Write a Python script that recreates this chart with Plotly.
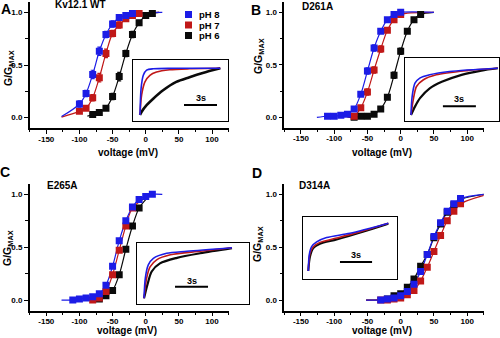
import plotly.graph_objects as go

W, H = 500, 338
BLUE = "#1c1ce6"
RED = "#c01818"
BLACK = "#0a0a0a"
FONT = "Liberation Sans"

# ---------------- data ----------------
X_TICKS = [-150, -100, -50, 0, 50, 100]
X_TICK_TEXT = ["-150", "-100", "-50", "0", "50", "100"]
Y_TICKS = [0.0, 0.5, 1.0]
Y_TICK_TEXT = ["0.0", "0.5", "1.0"]
PANEL_LETTERS = ["A", "B", "C", "D"]
PANEL_TITLES = ["Kv12.1 WT", "D261A", "E265A", "D314A"]
LEGEND_LABELS = ["pH 8", "pH 7", "pH 6"]

# Panel A  Kv12.1 WT
A_v8 = [-100, -90, -80, -70, -60, -50, -40, -30, -20]
A_g8 = [0.13, 0.23, 0.41, 0.63, 0.79, 0.89, 0.95, 0.97, 0.99]
A_e8 = [0.03, 0.03, 0.04, 0.04, 0.03, 0.03, 0.02, 0.02, 0.01]
A_v7 = [-100, -90, -80, -70, -60, -50, -40, -30, -20, -10]
A_g7 = [0.06, 0.09, 0.19, 0.38, 0.61, 0.80, 0.88, 0.94, 0.97, 0.99]
A_e7 = [0.02, 0.02, 0.03, 0.04, 0.04, 0.03, 0.03, 0.02, 0.02, 0.01]
A_v6 = [-80, -70, -60, -50, -40, -30, -20, -10, 0, 10]
A_g6 = [0.03, 0.05, 0.09, 0.20, 0.39, 0.61, 0.79, 0.90, 0.97, 0.99]
A_e6 = [0.01, 0.02, 0.02, 0.03, 0.04, 0.03, 0.03, 0.02, 0.02, 0.01]
A_fit8 = [(-127, 0.01), (25, 1.0)]
A_fit7 = [(-127, 0.005), (20, 1.0)]
A_fit6 = [(-88, 0.015), (20, 1.0)]

# Panel B  D261A
B_v8 = [-110, -100, -90, -80, -70, -60, -50, -40, -30, -20, -10, 0]
B_g8 = [0.01, 0.01, 0.02, 0.03, 0.08, 0.22, 0.44, 0.66, 0.82, 0.93, 0.98, 1.0]
B_e8 = [0.01, 0.01, 0.01, 0.01, 0.01, 0.02, 0.03, 0.03, 0.02, 0.02, 0.01, 0.01]
B_v7 = [-70, -60, -50, -40, -30, -20, -10, 0]
B_g7 = [0.01, 0.09, 0.24, 0.45, 0.65, 0.83, 0.93, 0.98]
B_e7 = [0.01, 0.02, 0.03, 0.03, 0.03, 0.02, 0.02, 0.01]
B_v6 = [-70, -60, -50, -40, -30, -20, -10, 0, 10, 20, 30]
B_g6 = [0.0, 0.01, 0.01, 0.03, 0.08, 0.19, 0.40, 0.63, 0.82, 0.93, 0.98]
B_e6 = [0.01, 0.01, 0.01, 0.01, 0.02, 0.02, 0.03, 0.03, 0.02, 0.02, 0.01]
B_fit8 = [(-126, 0.0), (50, 1.0)]
B_fit7 = [(-80, 0.0), (50, 1.0)]
B_fit6 = [(-78, 0.0), (50, 1.0)]

# Panel C  E265A
C_v8 = [-110, -100, -90, -80, -70, -60, -50, -40, -30, -20, -10, 0, 10]
C_g8 = [0.0, 0.01, 0.02, 0.03, 0.06, 0.14, 0.32, 0.56, 0.75, 0.88, 0.95, 0.98, 1.0]
C_e8 = [0.01, 0.01, 0.01, 0.01, 0.01, 0.02, 0.02, 0.02, 0.02, 0.02, 0.01, 0.01, 0.01]
C_v7 = [-80, -70, -60, -50, -40, -30, -20]
C_g7 = [0.0, 0.02, 0.08, 0.24, 0.47, 0.70, 0.87]
C_e7 = [0.01, 0.01, 0.01, 0.02, 0.02, 0.02, 0.02]
C_v6 = [-70, -60, -50, -40, -30, -20, -10]
C_g6 = [0.01, 0.04, 0.09, 0.24, 0.48, 0.70, 0.87]
C_e6 = [0.01, 0.01, 0.01, 0.02, 0.02, 0.02, 0.02]
C_fit8 = [(-127, 0.0), (25, 1.0)]
C_fit7 = [(-92, 0.0), (0, 0.97)]
C_fit6 = [(-80, 0.005), (0, 0.95)]

# Panel D  D314A
D_v8 = [-30, -20, -10, 0, 10, 20, 30, 40, 50, 60, 70, 80, 90]
D_g8 = [0.0, 0.01, 0.02, 0.04, 0.08, 0.15, 0.27, 0.43, 0.60, 0.73, 0.84, 0.91, 0.96]
D_e8 = [0.01, 0.01, 0.01, 0.01, 0.01, 0.02, 0.02, 0.02, 0.02, 0.02, 0.02, 0.01, 0.01]
D_v7 = [-30, -20, -10, 0, 10, 20, 30, 40, 50, 60, 70, 80, 90]
D_g7 = [0.0, 0.0, 0.01, 0.02, 0.05, 0.09, 0.18, 0.31, 0.46, 0.61, 0.75, 0.84, 0.91]
D_e7 = [0.01, 0.01, 0.01, 0.01, 0.01, 0.01, 0.02, 0.02, 0.02, 0.02, 0.02, 0.01, 0.01]
D_v6 = [-20, -10, 0, 10, 20, 30, 40, 50, 60, 70, 80, 90]
D_g6 = [0.01, 0.04, 0.06, 0.12, 0.20, 0.32, 0.43, 0.59, 0.72, 0.83, 0.90, 0.95]
D_e6 = [0.01, 0.01, 0.01, 0.02, 0.02, 0.02, 0.02, 0.02, 0.02, 0.02, 0.01, 0.01]
D_fit8 = [(-52, 0.0), (125, 1.0)]
D_fit7 = [(-52, 0.0), (125, 0.99)]
D_fit6 = [(-52, 0.0), (125, 1.0)]

# Inset current traces (time in s, normalised current)
IA_t8 = [0, 0.1, 0.3, 0.6, 1.2, 3.0, 7.3]
IA_i8 = [0, 0.57, 0.85, 0.96, 0.99, 1.0, 1.0]
IA_t7 = [0, 0.15, 0.45, 0.9, 1.5, 2.7, 4.5, 7.3]
IA_i7 = [0, 0.43, 0.71, 0.85, 0.92, 0.97, 0.99, 1.0]
IA_t6 = [0, 0.15, 0.6, 1.2, 2.1, 3.3, 4.5, 5.7, 7.3]
IA_i6 = [0, 0.07, 0.21, 0.35, 0.53, 0.71, 0.81, 0.90, 1.0]

IB_t8 = [0, 0.1, 0.36, 0.8, 1.7, 3.5, 7.9]
IB_i8 = [0, 0.39, 0.68, 0.79, 0.86, 0.93, 1.0]
IB_t7 = [0, 0.2, 0.5, 1.1, 2.3, 5.1, 7.9]
IB_i7 = [0, 0.32, 0.61, 0.75, 0.86, 0.95, 1.0]
IB_t6 = [0, 0.36, 0.82, 1.7, 2.8, 4.6, 6.4, 7.9]
IB_i6 = [0, 0.18, 0.36, 0.57, 0.71, 0.86, 0.95, 1.0]

IC_t8 = [0, 0.12, 0.39, 0.85, 2.06, 3.9, 8.0]
IC_i8 = [0, 0.40, 0.66, 0.79, 0.89, 0.93, 1.0]
IC_t7 = [0, 0.24, 0.55, 1.15, 2.4, 5.1, 8.0]
IC_i7 = [0, 0.40, 0.62, 0.76, 0.86, 0.93, 1.0]
IC_t6 = [0, 0.3, 0.7, 1.45, 3.0, 5.1, 8.0]
IC_i6 = [0, 0.26, 0.53, 0.69, 0.80, 0.89, 0.99]

ID_t8 = [0, 0.09, 0.31, 0.78, 1.71, 3.89, 7.48]
ID_i8 = [0, 0.34, 0.51, 0.61, 0.70, 0.79, 1.0]
ID_t7 = [0, 0.16, 0.47, 1.09, 2.65, 4.8, 7.48]
ID_i7 = [0, 0.37, 0.51, 0.60, 0.69, 0.82, 1.0]
ID_t6 = [0, 0.16, 0.47, 1.09, 2.65, 5.1, 7.48]
ID_i6 = [0, 0.30, 0.48, 0.57, 0.66, 0.82, 0.99]

SCALE_SECONDS = 3
SCALE_LABEL = "3s"

# ---------------- layout geometry (pixels) ----------------
def px2x(p):
    return p / W

def px2y(p):
    return 1 - p / H

MAIN_DOMAINS = [  # (x0,x1,y_top,y_bottom) px
    (29.7, 228.6, 1.8, 128.2),
    (284.3, 483.8, 1.8, 127.8),
    (29.7, 228.6, 183.7, 310.6),
    (284.3, 483.8, 183.7, 310.6),
]
INSET_BOXES = [  # px box, t-range, i-range, scale bar start t, bar y, text y
    ((133, 228, 60, 121), (-0.636, 8.0), (-0.128, 1.178), 4.0, 0.214, 0.37),
    ((405, 499, 58, 121), (-0.545, 8.0), (-0.128, 1.22), 2.9, 0.19, 0.34),
    ((137, 249, 243, 304), (-0.636, 9.545), (-0.113, 1.093), 2.82, 0.229, 0.35),
    ((303, 397, 217, 279), (-0.495, 8.29), (-0.168, 1.132), 2.96, 0.189, 0.345),
]

panels = [
    [(A_v6, A_g6, A_e6, A_fit6, BLACK), (A_v7, A_g7, A_e7, A_fit7, RED), (A_v8, A_g8, A_e8, A_fit8, BLUE)],
    [(B_v6, B_g6, B_e6, B_fit6, BLACK), (B_v7, B_g7, B_e7, B_fit7, RED), (B_v8, B_g8, B_e8, B_fit8, BLUE)],
    [(C_v6, C_g6, C_e6, C_fit6, BLACK), (C_v7, C_g7, C_e7, C_fit7, RED), (C_v8, C_g8, C_e8, C_fit8, BLUE)],
    [(D_v6, D_g6, D_e6, D_fit6, BLACK), (D_v7, D_g7, D_e7, D_fit7, RED), (D_v8, D_g8, D_e8, D_fit8, BLUE)],
]
insets = [
    [(IA_t6, IA_i6, BLACK, 2.6), (IA_t7, IA_i7, RED, 1.6), (IA_t8, IA_i8, BLUE, 1.6)],
    [(IB_t6, IB_i6, BLACK, 2.2), (IB_t7, IB_i7, RED, 1.6), (IB_t8, IB_i8, BLUE, 1.6)],
    [(IC_t6, IC_i6, BLACK, 2.2), (IC_t7, IC_i7, RED, 1.6), (IC_t8, IC_i8, BLUE, 1.6)],
    [(ID_t6, ID_i6, BLACK, 2.0), (ID_t7, ID_i7, RED, 1.6), (ID_t8, ID_i8, BLUE, 1.6)],
]

fig = go.Figure()
layout = dict(
    width=W, height=H, margin=dict(l=0, r=0, t=0, b=0),
    paper_bgcolor="white", plot_bgcolor="white", showlegend=False,
    font=dict(family=FONT, color="black"),
)

tickfont = dict(family=FONT, size=8, color="black", weight="bold")

for k, (x0, x1, yt, yb) in enumerate(MAIN_DOMAINS):
    n = k + 1
    xa = "x" if n == 1 else f"x{n}"
    ya = "y" if n == 1 else f"y{n}"
    layout[f"xaxis{n}"] = dict(
        domain=[px2x(x0), px2x(x1)], range=[-175, 125], anchor=ya,
        showline=True, linecolor="black", linewidth=1.5,
        ticks="outside", ticklen=4, tickwidth=1.3, tickcolor="black",
        tickvals=X_TICKS, ticktext=X_TICK_TEXT, tickfont=tickfont,
        ticklabelstandoff=-2,
        minor=dict(ticks="outside", ticklen=2.5, tickwidth=1, tickcolor="black", dtick=25, tick0=0),
        showgrid=False, zeroline=False, fixedrange=True,
    )
    layout[f"yaxis{n}"] = dict(
        domain=[px2y(yb), px2y(yt)], range=[-0.1, 1.1], anchor=xa,
        showline=True, linecolor="black", linewidth=1.5,
        ticks="outside", ticklen=4, tickwidth=1.3, tickcolor="black",
        tickvals=Y_TICKS, ticktext=Y_TICK_TEXT, tickfont=tickfont,
        minor=dict(ticks="outside", ticklen=2.5, tickwidth=1, tickcolor="black", dtick=0.25, tick0=0),
        showgrid=False, zeroline=False, fixedrange=True,
    )
    for (v, g, e, fit, col) in panels[k]:
        cx = [fit[0][0]] + v + [fit[1][0]]
        cy = [fit[0][1]] + g + [fit[1][1]]
        fig.add_trace(go.Scatter(x=cx, y=cy, mode="lines", xaxis=xa, yaxis=ya,
                                 line=dict(color=col, width=1.2, shape="spline", smoothing=0.9),
                                 hoverinfo="skip"))
    for (v, g, e, fit, col) in panels[k]:
        fig.add_trace(go.Scatter(x=v, y=g, mode="markers", xaxis=xa, yaxis=ya,
                                 marker=dict(symbol="square", size=7, color=col, line=dict(width=0)),
                                 error_y=dict(type="data", array=e, color=col, thickness=1.2, width=2)))

for k, (box, tr, ir, sb0, sby, txty) in enumerate(INSET_BOXES):
    n = k + 5
    xa, ya = f"x{n}", f"y{n}"
    bx0, bx1, by0, by1 = box
    common = dict(showline=True, mirror=True, linecolor="black", linewidth=1.3,
                  ticks="", showticklabels=False, showgrid=False, zeroline=False, fixedrange=True)
    layout[f"xaxis{n}"] = dict(domain=[px2x(bx0), px2x(bx1)], range=list(tr), anchor=ya, **common)
    layout[f"yaxis{n}"] = dict(domain=[px2y(by1), px2y(by0)], range=list(ir), anchor=xa, **common)
    for (t, i, col, lw) in insets[k]:
        fig.add_trace(go.Scatter(x=t, y=i, mode="lines", xaxis=xa, yaxis=ya,
                                 line=dict(color=col, width=lw, shape="spline", smoothing=0.8),
                                 hoverinfo="skip"))
    fig.add_trace(go.Scatter(x=[sb0, sb0 + SCALE_SECONDS], y=[sby, sby], mode="lines",
                             xaxis=xa, yaxis=ya, line=dict(color="black", width=2), hoverinfo="skip"))

annotations = []

def ann(text, x, y, size, weight="bold", angle=0, xanchor="center", **kw):
    annotations.append(dict(text=text, x=px2x(x), y=px2y(y), xref="paper", yref="paper",
                            xanchor=xanchor, yanchor="middle", showarrow=False, textangle=angle,
                            font=dict(family=FONT, size=size, color="black", weight=weight), **kw))

letter_pos = [(6, 9), (256, 10), (5, 172), (257, 173)]
title_pos = [(53, 5), (300, 7), (45, 185), (297, 185)]
xlabel_pos = [(128, 152), (382, 152), (127, 330), (382, 330)]
ylabel_pos = [(9, 68), (259, 56), (8, 248), (258, 244)]
for k in range(4):
    ann(PANEL_LETTERS[k], *letter_pos[k], 14)
    ann(PANEL_TITLES[k], *title_pos[k], 10, xanchor="left")
    ann("voltage (mV)", *xlabel_pos[k], 10)
    ann("G/G<sub>MAX</sub>", *ylabel_pos[k], 10.5, angle=-90)

for k, (box, tr, ir, sb0, sby, txty) in enumerate(INSET_BOXES):
    n = k + 5
    annotations.append(dict(text=SCALE_LABEL, x=sb0 + SCALE_SECONDS / 2, y=txty,
                            xref=f"x{n}", yref=f"y{n}", showarrow=False,
                            xanchor="center", yanchor="middle",
                            font=dict(family=FONT, size=9, color="black", weight="bold")))

# legend (panel A)
shapes = []
legend_y = [14.5, 25, 35.5]
legend_cols = [BLUE, RED, BLACK]
for lab, yy, col in zip(LEGEND_LABELS, legend_y, legend_cols):
    shapes.append(dict(type="rect", xref="paper", yref="paper",
                       x0=px2x(185), x1=px2x(192), y0=px2y(yy + 3.5), y1=px2y(yy - 3.5),
                       fillcolor=col, line=dict(width=0)))
    ann(lab, 197, yy, 9.5, xanchor="left")

layout["annotations"] = annotations
layout["shapes"] = shapes
fig.update_layout(**layout)
fig.write_html("out.html")
